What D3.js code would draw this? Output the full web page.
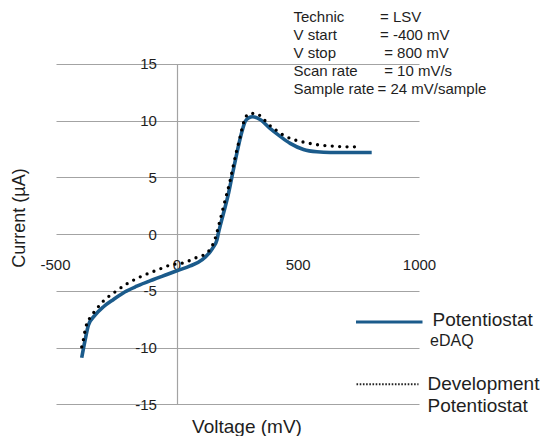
<!DOCTYPE html>
<html>
<head>
<meta charset="utf-8">
<script src="https://cdn.jsdelivr.net/npm/d3@7"></script>
<style>
  html, body { margin: 0; padding: 0; background: #fff; }
  svg { display: block; font-family: "Liberation Sans", Arial, sans-serif; }
</style>
</head>
<body>
<svg id="chart" width="544" height="436"></svg>
<script>
// ---- data ----
const xTicks = [-500, 0, 500, 1000];
const yTicks = [-15, -10, -5, 0, 5, 10, 15];

// Potentiostat eDAQ (solid)
const solidV = [-392, -378, -364, -337, -302, -261, -213, -165, -96, -41, 0, 55, 105, 137, 151, 165, 171, 192, 213, 227, 247, 268, 281, 296, 312, 343, 384, 426, 467, 522, 577, 632, 714, 803];
const solidI = [-10.9, -9.35, -8.0, -7.14, -6.4, -5.76, -5.08, -4.59, -4.0, -3.56, -3.23, -2.8, -2.25, -1.56, -1.12, -0.53, 0.06, 1.82, 3.59, 5.05, 7.1, 9.02, 9.9, 10.25, 10.35, 10.11, 9.32, 8.62, 8.0, 7.47, 7.26, 7.2, 7.2, 7.2];

// Development Potentiostat (dotted)
const dotV = [-392, -385, -378, -371, -357, -337, -302, -254, -199, -144, -82, -28, 27, 82, 124, 158, 178, 199, 220, 233, 247, 261, 274, 299, 327, 350, 377, 405, 439, 480, 536, 590, 645, 700, 748];
const dotI = [-9.94, -9.3, -8.47, -7.88, -7.35, -6.76, -5.88, -5.08, -4.29, -3.7, -3.17, -2.73, -2.53, -2.05, -1.65, -0.38, 1.23, 3.0, 4.76, 6.08, 7.4, 8.58, 9.76, 10.64, 10.64, 10.3, 9.7, 9.23, 8.73, 8.35, 8.05, 7.85, 7.76, 7.7, 7.7];

const infoLabels = ["Technic", "V start", "V stop", "Scan rate", "Sample rate"];
const infoValues = ["= LSV", "= -400 mV", " = 800 mV", " = 10 mV/s", "= 24 mV/sample"];

const seriesNames = [["Potentiostat", "eDAQ"], ["Development", "Potentiostat"]];
const xTitle = "Voltage (mV)";
const yTitle = "Current  (µA)";

// ---- drawing ----
const svg = d3.select("#chart");
const x = d3.scaleLinear().domain([-500, 1000]).range([55.5, 419.5]);
const y = d3.scaleLinear().domain([-15, 15]).range([404.3, 64]);
const gridColor = "#a3a3a3";
const textColor = "#1e1e1e";

// horizontal gridlines
svg.append("g")
  .selectAll("line").data(yTicks).join("line")
  .attr("x1", x(-500) + 1).attr("x2", x(1000))
  .attr("y1", d => Math.round(y(d)) + 0.5).attr("y2", d => Math.round(y(d)) + 0.5)
  .attr("stroke", gridColor).attr("stroke-width", 1.2);

// vertical axis at x = 0
svg.append("line")
  .attr("x1", Math.round(x(0)) + 0.5).attr("x2", Math.round(x(0)) + 0.5)
  .attr("y1", y(15)).attr("y2", y(-15))
  .attr("stroke", gridColor).attr("stroke-width", 1.2);

// y tick labels
svg.append("g")
  .selectAll("text").data(yTicks).join("text")
  .attr("x", x(0) - 20).attr("y", d => y(d))
  .attr("dy", "0.36em").attr("text-anchor", "end")
  .attr("font-size", 15).attr("fill", textColor)
  .text(d => d);

// x tick labels (along the 0 line)
svg.append("g")
  .selectAll("text").data(xTicks).join("text")
  .attr("x", d => x(d)).attr("y", y(0) + 30)
  .attr("dy", "0.36em").attr("text-anchor", "middle")
  .attr("font-size", 15).attr("fill", textColor)
  .text(d => d);

// axis titles
svg.append("text")
  .attr("x", 247).attr("y", 426).attr("dy", "0.36em")
  .attr("text-anchor", "middle").attr("font-size", 19).attr("fill", textColor)
  .text(xTitle);
svg.append("text")
  .attr("transform", "translate(18.5,218) rotate(-90)")
  .attr("dy", "0.36em")
  .attr("text-anchor", "middle").attr("font-size", 18).attr("fill", textColor)
  .text(yTitle);

// lines
const line = d3.line().x(d => x(d[0])).y(d => y(d[1])).curve(d3.curveMonotoneX);
const solidData = solidV.map((v, i) => [v, solidI[i]]);
const dotData = dotV.map((v, i) => [v, dotI[i]]);

svg.append("path").datum(solidData)
  .attr("d", line).attr("fill", "none")
  .attr("stroke", "#1b5b8b").attr("stroke-width", 3.6)
  .attr("stroke-linejoin", "round");

svg.append("path").datum(dotData)
  .attr("d", line).attr("fill", "none")
  .attr("stroke", "#000").attr("stroke-width", 3.3)
  .attr("stroke-linecap", "round")
  .attr("stroke-dasharray", "0,7.4");

// info block
const info = svg.append("g").attr("font-size", 15).attr("fill", textColor);
info.selectAll("text.lab").data(infoLabels).join("text")
  .attr("class", "lab")
  .attr("x", 293.5).attr("y", (d, i) => 17 + i * 17.9).attr("dy", "0.36em")
  .text(d => d);
info.selectAll("text.val").data(infoValues).join("text")
  .attr("class", "val")
  .attr("xml:space", "preserve").style("white-space", "pre")
  .attr("x", (d, i) => i === 4 ? 377.5 : 380).attr("y", (d, i) => 17 + i * 17.9).attr("dy", "0.36em")
  .text(d => d);

// legend
const lg = svg.append("g");
lg.append("line").attr("x1", 356).attr("x2", 422.5).attr("y1", 322).attr("y2", 322)
  .attr("stroke", "#1b5b8b").attr("stroke-width", 3);
lg.append("text").attr("x", 432.5).attr("y", 318.7).attr("dy", "0.36em")
  .attr("font-size", 19).attr("fill", textColor).text(seriesNames[0][0]);
lg.append("text").attr("x", 430).attr("y", 340).attr("dy", "0.36em")
  .attr("font-size", 16).attr("fill", textColor).text(seriesNames[0][1]);

lg.append("line").attr("x1", 356.5).attr("x2", 418.5).attr("y1", 384.3).attr("y2", 384.3)
  .attr("stroke", "#222").attr("stroke-width", 2).attr("stroke-dasharray", "1.6,1.6");
lg.append("text").attr("x", 427.5).attr("y", 382.7).attr("dy", "0.36em")
  .attr("font-size", 19).attr("fill", textColor).text(seriesNames[1][0]);
lg.append("text").attr("x", 427.5).attr("y", 405.3).attr("dy", "0.36em")
  .attr("font-size", 19).attr("fill", textColor).text(seriesNames[1][1]);
</script>
</body>
</html>
